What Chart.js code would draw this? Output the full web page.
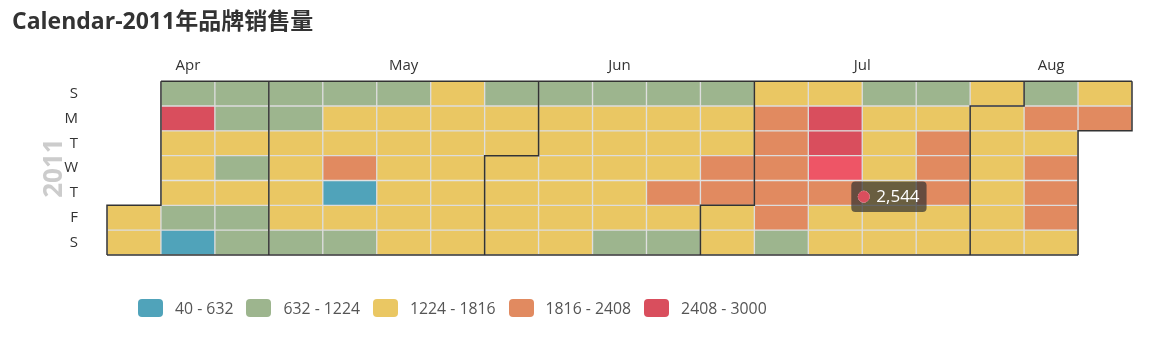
<!DOCTYPE html>
<html>
<head>
<meta charset="utf-8">
<title>Calendar-2011年品牌销售量</title>
<script src="https://cdn.jsdelivr.net/npm/chart.js@4.4.1/dist/chart.umd.min.js"></script>
<style>
  body { margin: 0; background: #fff; }
  #wrap { position: relative; width: 1159px; height: 341px; }
  #legend { position: absolute; left: 138px; top: 299px; display: flex; align-items: center;
            font: 15.8px "Open Sans", sans-serif; color: #555; }
  #legend .item { display: flex; align-items: center; margin-right: 13px; height: 18px; }
  #legend .box { width: 25px; height: 18px; border-radius: 4px; margin-right: 12px; }
</style>
</head>
<body>
<div id="wrap"><canvas id="calendar"></canvas><div id="legend"></div></div>
<script>
// calendar range starts on 2011-04-15, one value per day
const firstDay = [2011, 3, 15];
const monthNames = ['Apr', 'May', 'Jun', 'Jul', 'Aug'];
const dayNames = ['S', 'M', 'T', 'W', 'T', 'F', 'S'];

const aprSales = [1532, 1388, 1046, 2611, 1457, 1702, 1319, 987, 412, 865, 1133, 1571, 1204, 1643, 918, 1087];
const maySales = [1012, 1175, 1486, 1623, 1398, 1751, 934, 1098, 1342, 1567, 1943, 526, 1478, 1156, 1021, 1689,
                  1534, 1412, 1597, 1361, 1276, 1448, 1715, 1582, 1307, 1639, 1493, 1258, 1109, 1546, 1421];
const junSales = [1667, 1384, 1529, 1296, 1143, 1578, 1462, 1705, 1351, 1614, 1283, 1067, 1496, 1738, 1405,
                  1559, 1632, 972, 1119, 1374, 1661, 1517, 2046, 1443, 1188, 1061, 1592, 1729, 1987, 2134];
const julSales = [1684, 1438, 1521, 2087, 2253, 1932, 2176, 2019, 1142, 1609, 2689, 2752, 2544, 2118, 1573, 1346,
                  1094, 1487, 1652, 1398, 1724, 1536, 1312, 1157, 1608, 1964, 2231, 2072, 1469, 1385, 1547];
const augSales = [1593, 1427, 1681, 1359, 1518, 1446, 1079, 1998, 1574, 2142, 2205, 1911, 1637, 1492, 2063];

const pieceBounds = [40, 632, 1224, 1816, 2408, 3000];
const pieceColors = ['#50a3ba', '#9db58e', '#eac763', '#e18a60', '#d94e5d'];
const hoverDay = [2011, 6, 13];

const DAY = 86400000;
const t0 = Date.UTC(...firstDay);
const offset = new Date(t0).getUTCDay(); // Sunday = first row
const allSales = [].concat(aprSales, maySales, junSales, julSales, augSales);

function dayPos(t) {
    const n = Math.round((t - t0) / DAY) + offset;
    return { col: Math.floor(n / 7), row: n % 7 };
}

function colorFor(v) {
    for (let i = 0; i < pieceColors.length; i++) {
        if (v <= pieceBounds[i + 1]) return pieceColors[i];
    }
    return pieceColors[pieceColors.length - 1];
}

// same as echarts liftColor
function lift(hex) {
    const n = parseInt(hex.slice(1), 16);
    const ch = [n >> 16, (n >> 8) & 255, n & 255].map(v => Math.min(255, Math.floor(v * 1.1)));
    return 'rgb(' + ch.join(',') + ')';
}

const cells = allSales.map((v, i) => {
    const p = dayPos(t0 + i * DAY);
    return { x: p.col + 0.5, y: [p.row, p.row + 1], v: v };
});

// month split points: range start, 1st of every month, day after range end
const tEnd = t0 + allSales.length * DAY;
const splits = [t0];
for (let m = firstDay[1] + 1; Date.UTC(firstDay[0], m, 1) < tEnd; m++) splits.push(Date.UTC(firstDay[0], m, 1));
splits.push(tEnd);
const splitPos = splits.map(dayPos);
const topCol = p => p.row === 0 ? p.col : p.col + 1;
const monthTicks = monthNames.map((m, i) => (splitPos[i].col + topCol(splitPos[i + 1])) / 2);

const splitLines = {
    id: 'splitLines',
    afterDatasetsDraw(chart) {
        const { ctx, scales: { x, y } } = chart;
        const line = pts => {
            ctx.beginPath();
            pts.forEach((p, i) => {
                const px = x.getPixelForValue(p[0]), py = y.getPixelForValue(p[1]);
                i ? ctx.lineTo(px, py) : ctx.moveTo(px, py);
            });
            ctx.stroke();
        };
        ctx.save();
        ctx.strokeStyle = '#333';
        ctx.lineWidth = 1.5;
        splitPos.forEach(p => {
            if (p.row === 0) line([[p.col, 0], [p.col, 7]]);
            else line([[p.col + 1, 0], [p.col + 1, p.row], [p.col, p.row], [p.col, 7]]);
        });
        const first = splitPos[0], last = splitPos[splitPos.length - 1];
        line([[topCol(first), 0], [topCol(last), 0]]);
        line([[first.col, 7], [last.col, 7]]);
        ctx.restore();
    }
};

Chart.registry.getPlugin('tooltip').positioners.cursor = (items, pos) => pos;
Chart.defaults.font.family = '"Open Sans", "Noto Sans CJK SC", sans-serif';

const chart = new Chart(document.getElementById('calendar'), {
    type: 'bar',
    data: {
        datasets: [{
            data: cells,
            backgroundColor: c => c.raw ? colorFor(c.raw.v) : '#ccc',
            hoverBackgroundColor: c => c.raw ? lift(colorFor(c.raw.v)) : '#ccc',
            borderColor: '#dcdcdc',
            hoverBorderColor: '#dcdcdc',
            borderWidth: 1,
            hoverBorderWidth: 1,
            borderSkipped: false,
            categoryPercentage: 1,
            barPercentage: 1
        }]
    },
    options: {
        responsive: true,
        maintainAspectRatio: false,
        animation: false,
        events: [],
        layout: { padding: { left: 12, right: 27, top: 0, bottom: 86 } },
        scales: {
            x: {
                type: 'linear',
                position: 'top',
                offset: false,
                min: 0,
                max: 19,
                grid: { display: false, drawTicks: false, offset: false },
                border: { display: false },
                afterBuildTicks: s => { s.ticks = monthTicks.map(v => ({ value: v })); },
                afterFit: s => { s.height = 44.6; },
                ticks: {
                    autoSkip: false,
                    maxRotation: 0,
                    padding: 6,
                    color: '#333',
                    font: { size: 15 },
                    callback: (v, i) => monthNames[i]
                }
            },
            y: {
                type: 'linear',
                min: 0,
                max: 7,
                reverse: true,
                grid: { display: false, drawTicks: false },
                border: { display: false },
                afterBuildTicks: s => { s.ticks = dayNames.map((d, i) => ({ value: i + 0.5 })); },
                afterFit: s => { s.width = 95; },
                ticks: {
                    padding: 29,
                    color: '#333',
                    font: { size: 15 },
                    callback: (v, i) => dayNames[i]
                },
                title: {
                    display: true,
                    text: String(firstDay[0]),
                    color: '#ccc',
                    font: { size: 26, weight: 'bold' },
                    padding: { top: 27, bottom: 0 }
                }
            }
        },
        plugins: {
            legend: { display: false },
            title: {
                display: true,
                text: 'Calendar-2011年品牌销售量',
                align: 'start',
                color: '#333',
                font: { size: 23, weight: 'bold' },
                padding: { top: 9, bottom: 0 }
            },
            tooltip: {
                position: 'cursor',
                xAlign: 'left',
                yAlign: 'top',
                backgroundColor: 'rgba(50,50,50,0.7)',
                caretSize: 0,
                caretPadding: 0,
                cornerRadius: 4,
                padding: { left: 7, right: 7, top: 5, bottom: 5 },
                bodyFont: { size: 17 },
                bodyColor: '#fff',
                displayColors: true,
                usePointStyle: true,
                boxWidth: 11,
                boxHeight: 11,
                boxPadding: 5,
                callbacks: {
                    title: () => [],
                    label: c => c.raw.v.toLocaleString('en-US'),
                    labelColor: c => ({ borderColor: colorFor(c.raw.v), backgroundColor: colorFor(c.raw.v) }),
                    labelPointStyle: () => ({ pointStyle: 'circle', rotation: 0 })
                }
            }
        }
    },
    plugins: [splitLines]
});

// legend built from the visual map pieces
const legend = document.getElementById('legend');
pieceColors.forEach((col, i) => {
    const item = document.createElement('div');
    item.className = 'item';
    const box = document.createElement('span');
    box.className = 'box';
    box.style.background = col;
    item.appendChild(box);
    item.appendChild(document.createTextNode(pieceBounds[i] + ' - ' + pieceBounds[i + 1]));
    legend.appendChild(item);
});

// show the hovered day like in the screenshot
const hp = dayPos(Date.UTC(...hoverDay));
const hoverIndex = cells.findIndex(c => c.x === hp.col + 0.5 && c.y[0] === hp.row);
const active = [{ datasetIndex: 0, index: hoverIndex }];
chart.setActiveElements(active);
chart.tooltip.setActiveElements(active, {
    x: chart.scales.x.getPixelForValue(hp.col + 0.5) + 20,
    y: chart.scales.y.getPixelForValue(hp.row + 1) + 1
});
chart.update();
</script>
</body>
</html>
